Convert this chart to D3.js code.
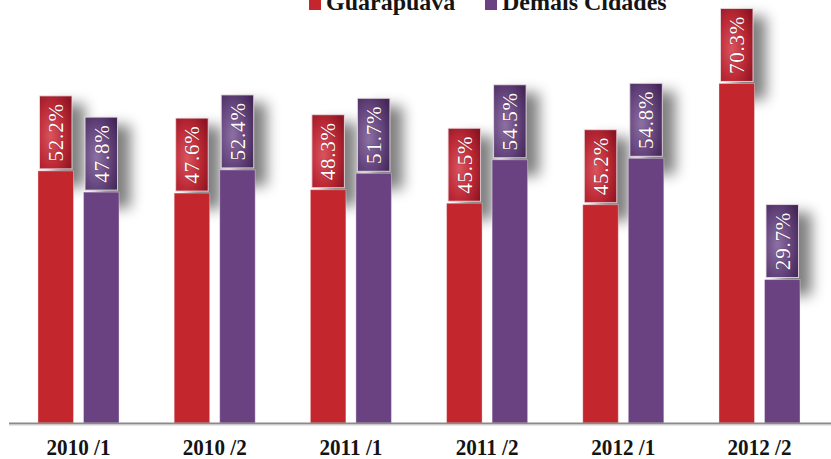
<!DOCTYPE html>
<html>
<head>
<meta charset="utf-8">
<script src="https://cdn.jsdelivr.net/npm/d3@7"></script>
<style>
  html, body { margin: 0; padding: 0; background: #fff; overflow: hidden; }
  svg { display: block; }
</style>
</head>
<body>
<svg id="chart" width="831" height="459"></svg>
<script>
const categories = ["2010/1", "2010/2", "2011/1", "2011/2", "2012/1", "2012/2"];
const categoryLabels = ["2010 /1", "2010 /2", "2011 /1", "2011 /2", "2012 /1", "2012 /2"];
const seriesNames = ["Guarapuava", "Demais Cidades"];
const guarapuava = [52.2, 47.6, 48.3, 45.5, 45.2, 70.3];
const demaisCidades = [47.8, 52.4, 51.7, 54.5, 54.8, 29.7];
const seriesColors = ["#c4262d", "#6a4281"];

const data = categories.map((c, i) => ({
  cat: c, label: categoryLabels[i],
  values: [
    { s: seriesNames[0], v: guarapuava[i], k: 0 },
    { s: seriesNames[1], v: demaisCidades[i], k: 1 }
  ]
}));

const svg = d3.select("#chart");
const defs = svg.append("defs");

const blur = defs.append("filter").attr("id", "shadowBlur")
  .attr("x", "-100%").attr("y", "-50%").attr("width", "300%").attr("height", "200%");
blur.append("feGaussianBlur").attr("stdDeviation", 7);

const gradStops = [
  [{ o: "0%", c: "#d9545e" }, { o: "55%", c: "#bd2a36" }, { o: "100%", c: "#8e1422" }],
  [{ o: "0%", c: "#8d70a3" }, { o: "55%", c: "#66467e" }, { o: "100%", c: "#442759" }]
];
gradStops.forEach((stops, k) => {
  const g = defs.append("radialGradient").attr("id", "boxGrad" + k)
    .attr("cx", "35%").attr("cy", "55%").attr("r", "75%");
  stops.forEach(s => g.append("stop").attr("offset", s.o).attr("stop-color", s.c));
});

const baseline = 423;
const x0 = d3.scaleBand().domain(categories).range([10.4, 827.6])
  .paddingInner(0.405).paddingOuter(0.2025);
const x1 = d3.scaleBand().domain(seriesNames).range([0, x0.bandwidth()])
  .paddingInner(0.22).paddingOuter(0);
const y = d3.scaleLinear().domain([0, 80]).range([baseline, baseline - 386.4]);

const boxH = 73, boxGap = 2, inset = 1.5;

const groups = svg.append("g").selectAll("g.grp").data(data).join("g")
  .attr("class", "grp")
  .attr("transform", d => `translate(${x0(d.cat)},0)`);

// shadows
groups.selectAll("rect.shadow").data(d => d.values).join("rect")
  .attr("class", "shadow")
  .attr("x", d => x1(d.s) + inset + 13)
  .attr("y", d => y(d.v) - boxGap - boxH + 8)
  .attr("width", x1.bandwidth() - 2 * inset)
  .attr("height", boxH + 10)
  .attr("fill", "#000").attr("opacity", 0.5)
  .attr("filter", "url(#shadowBlur)");

// bars
groups.selectAll("rect.bar").data(d => d.values).join("rect")
  .attr("class", "bar")
  .attr("x", d => x1(d.s))
  .attr("y", d => y(d.v))
  .attr("width", x1.bandwidth())
  .attr("height", d => y(0) - y(d.v))
  .attr("fill", d => seriesColors[d.k])
  .attr("stroke", "rgba(255,255,255,0.35)").attr("stroke-width", 1);

// label boxes
groups.selectAll("rect.lbox").data(d => d.values).join("rect")
  .attr("class", "lbox")
  .attr("x", d => x1(d.s) + inset)
  .attr("y", d => y(d.v) - boxGap - boxH)
  .attr("width", x1.bandwidth() - 2 * inset)
  .attr("height", boxH)
  .attr("fill", d => `url(#boxGrad${d.k})`)
  .attr("stroke", "rgba(235,225,230,0.85)").attr("stroke-width", 1);

groups.selectAll("text.val").data(d => d.values).join("text")
  .attr("class", "val")
  .attr("transform", d => {
    const cx = x1(d.s) + x1.bandwidth() / 2;
    const cy = y(d.v) - boxGap - boxH / 2;
    return `translate(${cx},${cy}) rotate(-90)`;
  })
  .attr("text-anchor", "middle")
  .attr("dy", "0.35em")
  .attr("font-family", "'Liberation Serif', serif")
  .attr("font-size", 21)
  .attr("letter-spacing", 0.8)
  .attr("fill", "#fff")
  .style("text-shadow", "0 0 1px rgba(60,0,20,0.7)")
  .text(d => d.v.toFixed(1) + "%");

// axis line
svg.append("line").attr("x1", 9).attr("x2", 831)
  .attr("y1", baseline + 0.5).attr("y2", baseline + 0.5)
  .attr("stroke", "#8a8a8a").attr("stroke-width", 2);
svg.append("line").attr("x1", 9).attr("x2", 831)
  .attr("y1", baseline + 2).attr("y2", baseline + 2)
  .attr("stroke", "#cfcfcf").attr("stroke-width", 1);

// category axis labels
const xAxis = d3.axisBottom(x0).tickSize(0).tickPadding(0)
  .tickFormat((d, i) => categoryLabels[i]);
const axG = svg.append("g").attr("transform", `translate(0,${baseline})`).call(xAxis);
axG.select(".domain").remove();
axG.selectAll("text")
  .attr("y", 32).attr("dy", 0)
  .attr("font-family", "'Liberation Serif', serif")
  .attr("font-weight", "bold")
  .attr("font-size", 23)
  .attr("fill", "#141414")
  .style("transform-box", "fill-box")
  .style("transform-origin", "center")
  .style("transform", "scaleX(0.92)");

// legend
const legendX = [309, 485];
const legend = svg.append("g");
seriesNames.forEach((n, i) => {
  legend.append("rect").attr("x", legendX[i]).attr("y", -2)
    .attr("width", 12).attr("height", 12).attr("fill", seriesColors[i]);
  legend.append("text").attr("x", legendX[i] + 17).attr("y", 10)
    .attr("font-family", "'Liberation Serif', serif")
    .attr("font-weight", "bold").attr("font-size", 24)
    .attr("fill", "#141414").text(n);
});
</script>
</body>
</html>
